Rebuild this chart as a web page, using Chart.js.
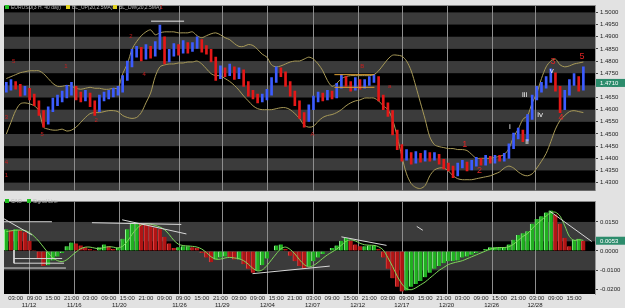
<!DOCTYPE html>
<html>
<head>
<meta charset="utf-8">
<script src="https://cdn.jsdelivr.net/npm/chart.js@4.4.1/dist/chart.umd.min.js"></script>
<style>
  html, body { margin: 0; padding: 0; background: #e2e2e2; }
  #wrap { position: relative; width: 625px; height: 308px; overflow: hidden; }
  #top { position: absolute; left: 0; top: 0; }
  #bot { position: absolute; left: 0; top: 196px; }
</style>
</head>
<body>
<div id="wrap">
  <canvas id="top" width="625" height="196" style="width:625px;height:196px"></canvas>
  <canvas id="bot" width="625" height="112" style="width:625px;height:112px"></canvas>
</div>
<script>
// ---- data (one value per 3h bar) ----
const closes = [1.4688,1.4708,1.4696,1.4668,1.4680,1.4656,1.4628,1.4588,1.4548,1.4600,
  1.4628,1.4640,1.4656,1.4668,1.4688,1.4656,1.4648,1.4660,1.4628,1.4600,
  1.4648,1.4656,1.4664,1.4672,1.4680,1.4728,1.4788,1.4828,1.4840,1.4816,
  1.4848,1.4828,1.4856,1.4888,1.4808,1.4828,1.4856,1.4840,1.4868,1.4848,
  1.4860,1.4880,1.4848,1.4840,1.4808,1.4736,1.4760,1.4748,1.4768,1.4736,
  1.4756,1.4708,1.4668,1.4656,1.4640,1.4648,1.4668,1.4720,1.4760,1.4748,
  1.4708,1.4668,1.4628,1.4576,1.4560,1.4608,1.4640,1.4656,1.4648,1.4664,
  1.4656,1.4696,1.4728,1.4708,1.4688,1.4716,1.4696,1.4708,1.4720,1.4728,
  1.4648,1.4616,1.4588,1.4508,1.4448,1.4400,1.4416,1.4388,1.4408,1.4396,
  1.4416,1.4400,1.4408,1.4388,1.4368,1.4360,1.4336,1.4368,1.4376,1.4360,
  1.4376,1.4388,1.4380,1.4396,1.4388,1.4400,1.4396,1.4408,1.4448,1.4488,
  1.4508,1.4480,1.4568,1.4648,1.4680,1.4696,1.4720,1.4744,1.4688,1.4608,
  1.4668,1.4708,1.4728,1.4688,1.4710];
const highs = [1.4712,1.4724,1.4716,1.4704,1.4696,1.4688,1.4664,1.4636,1.4596,1.4612,
  1.4648,1.4660,1.4676,1.4700,1.4712,1.4696,1.4672,1.4680,1.4668,1.4636,
  1.4660,1.4672,1.4680,1.4688,1.4696,1.4740,1.4800,1.4848,1.4860,1.4856,
  1.4868,1.4860,1.4880,1.4948,1.4900,1.4848,1.4872,1.4868,1.4884,1.4876,
  1.4876,1.4900,1.4888,1.4864,1.4848,1.4816,1.4780,1.4772,1.4788,1.4776,
  1.4772,1.4764,1.4716,1.4680,1.4664,1.4664,1.4684,1.4732,1.4776,1.4772,
  1.4756,1.4716,1.4676,1.4636,1.4588,1.4620,1.4656,1.4672,1.4668,1.4680,
  1.4676,1.4708,1.4744,1.4736,1.4716,1.4732,1.4724,1.4724,1.4736,1.4744,
  1.4736,1.4660,1.4628,1.4596,1.4516,1.4456,1.4436,1.4424,1.4428,1.4420,
  1.4432,1.4424,1.4424,1.4416,1.4396,1.4380,1.4368,1.4380,1.4392,1.4384,
  1.4392,1.4404,1.4400,1.4412,1.4408,1.4412,1.4412,1.4420,1.4460,1.4504,
  1.4524,1.4516,1.4580,1.4660,1.4696,1.4712,1.4736,1.4768,1.4752,1.4696,
  1.4680,1.4724,1.4748,1.4736,1.4776];
const lows = [1.4672,1.4680,1.4684,1.4656,1.4660,1.4640,1.4616,1.4576,1.4528,1.4540,
  1.4592,1.4616,1.4632,1.4648,1.4660,1.4640,1.4632,1.4636,1.4612,1.4576,
  1.4592,1.4636,1.4644,1.4652,1.4660,1.4672,1.4720,1.4776,1.4816,1.4800,
  1.4808,1.4812,1.4820,1.4848,1.4788,1.4796,1.4820,1.4824,1.4832,1.4832,
  1.4840,1.4852,1.4836,1.4828,1.4796,1.4720,1.4728,1.4736,1.4740,1.4724,
  1.4728,1.4696,1.4656,1.4644,1.4628,1.4632,1.4640,1.4660,1.4712,1.4736,
  1.4696,1.4656,1.4616,1.4564,1.4528,1.4552,1.4600,1.4632,1.4636,1.4640,
  1.4644,1.4648,1.4688,1.4696,1.4676,1.4680,1.4684,1.4688,1.4700,1.4712,
  1.4636,1.4600,1.4572,1.4496,1.4436,1.4388,1.4392,1.4376,1.4380,1.4384,
  1.4388,1.4388,1.4392,1.4376,1.4356,1.4348,1.4320,1.4328,1.4360,1.4348,
  1.4352,1.4368,1.4372,1.4372,1.4380,1.4380,1.4388,1.4388,1.4400,1.4440,
  1.4480,1.4468,1.4472,1.4560,1.4640,1.4672,1.4688,1.4712,1.4676,1.4588,
  1.4600,1.4660,1.4700,1.4676,1.4680];
const bbUp = [1.4728,1.4736,1.4744,1.4752,1.4756,1.4760,1.4760,1.4760,1.4748,1.4728,
  1.4708,1.4696,1.4696,1.4700,1.4696,1.4688,1.4684,1.4688,1.4692,1.4688,
  1.4688,1.4684,1.4684,1.4688,1.4688,1.4748,1.4788,1.4848,1.4880,1.4904,
  1.4920,1.4928,1.4908,1.4916,1.4920,1.4920,1.4920,1.4916,1.4916,1.4916,
  1.4920,1.4904,1.4896,1.4904,1.4912,1.4916,1.4908,1.4896,1.4888,1.4872,
  1.4860,1.4860,1.4868,1.4864,1.4848,1.4828,1.4816,1.4784,1.4776,1.4780,
  1.4788,1.4796,1.4800,1.4800,1.4808,1.4816,1.4808,1.4788,1.4760,1.4720,
  1.4696,1.4708,1.4728,1.4736,1.4740,1.4740,1.4740,1.4740,1.4740,1.4744,
  1.4760,1.4784,1.4808,1.4824,1.4824,1.4820,1.4800,1.4760,1.4696,1.4628,
  1.4560,1.4488,1.4456,1.4448,1.4444,1.4440,1.4440,1.4436,1.4436,1.4432,
  1.4416,1.4400,1.4400,1.4400,1.4400,1.4404,1.4408,1.4416,1.4440,1.4488,
  1.4520,1.4560,1.4576,1.4628,1.4668,1.4728,1.4776,1.4800,1.4808,1.4784,
  1.4776,1.4780,1.4788,1.4792,1.4796];
const bbDw = [1.4500,1.4548,1.4596,1.4624,1.4628,1.4624,1.4616,1.4596,1.4528,1.4520,
  1.4516,1.4516,1.4520,1.4512,1.4516,1.4528,1.4548,1.4568,1.4584,1.4588,
  1.4588,1.4592,1.4596,1.4596,1.4592,1.4576,1.4568,1.4564,1.4568,1.4588,
  1.4628,1.4668,1.4736,1.4776,1.4784,1.4788,1.4788,1.4792,1.4792,1.4796,
  1.4796,1.4800,1.4788,1.4768,1.4748,1.4740,1.4740,1.4728,1.4716,1.4700,
  1.4680,1.4656,1.4636,1.4616,1.4604,1.4600,1.4600,1.4600,1.4604,1.4608,
  1.4608,1.4600,1.4584,1.4564,1.4536,1.4528,1.4532,1.4552,1.4568,1.4576,
  1.4580,1.4588,1.4600,1.4616,1.4628,1.4636,1.4640,1.4648,1.4648,1.4648,
  1.4636,1.4616,1.4600,1.4560,1.4488,1.4408,1.4336,1.4296,1.4280,1.4276,
  1.4288,1.4328,1.4352,1.4360,1.4360,1.4348,1.4328,1.4316,1.4312,1.4312,
  1.4312,1.4316,1.4320,1.4324,1.4328,1.4336,1.4344,1.4360,1.4368,1.4360,
  1.4344,1.4332,1.4328,1.4336,1.4360,1.4388,1.4420,1.4468,1.4520,1.4556,
  1.4576,1.4592,1.4596,1.4592,1.4588];
const cao = [0.0112,0.0107,0.0112,0.0107,0.0097,0.0053,0.0005,-0.0039,-0.0078,-0.0073,
  -0.0049,-0.0029,-0.0010,0.0024,0.0044,0.0039,0.0029,0.0019,0.0010,0.0005,
  0.0019,0.0034,0.0024,0.0010,0.0015,0.0063,0.0112,0.0146,0.0146,0.0141,
  0.0136,0.0131,0.0121,0.0112,0.0073,0.0039,0.0015,0.0019,0.0024,0.0024,
  0.0019,0.0015,-0.0010,-0.0034,-0.0058,-0.0044,-0.0034,-0.0029,-0.0034,-0.0044,
  -0.0044,-0.0068,-0.0092,-0.0112,-0.0102,-0.0073,-0.0039,0.0000,0.0029,0.0034,
  0.0010,-0.0024,-0.0053,-0.0078,-0.0092,-0.0078,-0.0053,-0.0034,-0.0015,0.0000,
  0.0015,0.0029,0.0053,0.0068,0.0053,0.0034,0.0024,0.0024,0.0029,0.0029,
  0.0010,-0.0034,-0.0092,-0.0141,-0.0184,-0.0209,-0.0204,-0.0184,-0.0170,-0.0155,
  -0.0136,-0.0112,-0.0092,-0.0078,-0.0063,-0.0053,-0.0053,-0.0049,-0.0034,-0.0029,
  -0.0019,-0.0010,0.0000,0.0010,0.0019,0.0019,0.0019,0.0019,0.0034,0.0058,
  0.0083,0.0092,0.0102,0.0141,0.0165,0.0180,0.0199,0.0209,0.0189,0.0141,
  0.0068,0.0024,0.0058,0.0063,0.0053];
const signal = [0.0100,0.0104,0.0107,0.0108,0.0106,0.0095,0.0075,0.0050,0.0020,-0.0010,
  -0.0035,-0.0050,-0.0055,-0.0045,-0.0025,-0.0005,0.0012,0.0020,0.0020,0.0015,
  0.0012,0.0018,0.0022,0.0020,0.0016,0.0025,0.0050,0.0085,0.0115,0.0135,
  0.0140,0.0138,0.0132,0.0124,0.0110,0.0085,0.0055,0.0035,0.0028,0.0026,
  0.0024,0.0020,0.0010,-0.0008,-0.0030,-0.0042,-0.0042,-0.0036,-0.0033,-0.0036,
  -0.0040,-0.0050,-0.0068,-0.0090,-0.0103,-0.0098,-0.0075,-0.0045,-0.0015,0.0012,
  0.0020,0.0008,-0.0015,-0.0045,-0.0070,-0.0082,-0.0075,-0.0058,-0.0038,-0.0020,
  -0.0005,0.0010,0.0030,0.0050,0.0058,0.0052,0.0040,0.0032,0.0030,0.0029,
  0.0022,0.0005,-0.0035,-0.0080,-0.0130,-0.0170,-0.0195,-0.0200,-0.0190,-0.0175,
  -0.0160,-0.0140,-0.0120,-0.0100,-0.0085,-0.0070,-0.0062,-0.0056,-0.0050,-0.0040,
  -0.0030,-0.0020,-0.0010,0.0000,0.0010,0.0015,0.0018,0.0018,0.0022,0.0035,
  0.0055,0.0075,0.0090,0.0115,0.0140,0.0160,0.0180,0.0198,0.0200,0.0180,
  0.0130,0.0075,0.0055,0.0058,0.0055];

// tick labels, by bar slot on the time axis
const timeSlots = [2,6,10,14,18,22,26,30,34,38,42,46,50,54,58,62,66,70,74,78,82,86,90,94,98,102,106,110,114,118,122];
const timeTexts = ['03:00','09:00','15:00','21:00','03:00','09:00','15:00','21:00','09:00','09:00','15:00',
  '21:00','03:00','09:00','15:00','21:00','03:00','09:00','15:00','21:00','03:00','09:00',
  '15:00','21:00','03:00','09:00','15:00','21:00','03:00','09:00','15:00'];
const dateSlots = [4.9,14.6,24.3,37.2,46.4,56.1,65.8,75.5,85.0,94.6,104.3,113.6];
const dateTexts = ['11/12','11/16','11/20','11/26','11/29','12/04','12/07','12/12','12/17','12/20','12/26','12/28'];
const priceTicks = [1.5000,1.4950,1.4900,1.4850,1.4800,1.4750,1.4700,1.4650,1.4600,1.4550,1.4500,1.4450,1.4400,1.4350,1.4300];
const caoTicks = [0.0150,0.0000,-0.0100,-0.0200];
const priceBands = [[1.4950,1.5000],[1.4850,1.4900],[1.4750,1.4800],[1.4650,1.4700],[1.4550,1.4600],[1.4450,1.4500],[1.4350,1.4400],[1.4250,1.4300]];
const caoBands = [[0.0050,0.0150],[-0.0100,0.0000]];

// drawn trend lines [slot1, value1, slot2, value2]
const topLines = [[31.1,1.4964,38.2,1.4964]];
const rangeLines = [[70.5,1.4744,79.1,1.4744],[70.5,1.4692,79.1,1.4692]];
const caoLines = [[-0.5,0.0166,5.5,0.0083],[-0.5,0.0151,9.8,0.0151],[18.4,0.0146,37.6,0.0137],[24.9,0.0161,38.7,0.0088],
  [1.65,-0.0039,12,-0.0039],[1.65,-0.0063,12.4,-0.0063],[1.65,0.0005,1.65,-0.0063],[-0.5,-0.0088,12.8,-0.0088],
  [52.9,-0.0117,69.5,-0.0078],[72,0.0073,81.7,0.0029],[88.2,0.0127,89.5,0.0107],[116.8,0.0205,125.8,0.0049]];

// wave counts [text, slot, price]
const smallRed = [['5',1.6,1.4800],['1',12.8,1.4780],['2',26.8,1.4900],['4',29.6,1.4744],['3',0,1.4568],
  ['5',7.7,1.4500],['2',19.3,1.4556],['4',0,1.4384],['1',0,1.4328],['1',33.3,1.5020],['B',76.5,1.4780],['A',65.8,1.4500],['a',82.4,1.4696]];
const bigRed = [['1',98.5,1.4456],['2',101.7,1.4348],['3',117.5,1.4796],['4',119.2,1.4568],['5',123.7,1.4820]];
const whiteWaves = [['i',108.2,1.4528],['ii',111.9,1.4468],['iii',111.4,1.4660],['iv',114.7,1.4580],['v',117.2,1.4760]];

const FONT = 'Liberation Sans';
const SLOTS = 127;
const pts = arr => arr.map((v, i) => ({x: i, y: v}));
const segs = (list, color, width) => list.map(s => ({
  type: 'line', data: [{x: s[0], y: s[1]}, {x: s[2], y: s[3]}],
  borderColor: color, borderWidth: width, pointRadius: 0, order: -1
}));

function panelBg(bands) {
  return {
    id: 'panelBg',
    beforeDraw(chart) {
      const {ctx, chartArea: a, scales: {x, y}} = chart;
      ctx.save();
      ctx.fillStyle = '#000';
      ctx.fillRect(a.left, a.top, a.width, a.height);
      ctx.fillStyle = '#3b3b3b';
      bands.forEach(([lo, hi]) => {
        const t = Math.max(y.getPixelForValue(hi), a.top);
        const b = Math.min(y.getPixelForValue(lo), a.bottom);
        if (b > t) ctx.fillRect(a.left, t, a.width, b - t);
      });
      ctx.strokeStyle = '#8e8e8e';
      ctx.lineWidth = 1;
      dateSlots.forEach(v => {
        const px = Math.round(x.getPixelForValue(v)) + 0.5;
        ctx.beginPath(); ctx.moveTo(px, a.top); ctx.lineTo(px, a.bottom); ctx.stroke();
      });
      ctx.restore();
    }
  };
}

function legend(items) {
  return (ctx, y) => {
    ctx.font = '5px ' + FONT;
    ctx.textBaseline = 'middle';
    items.forEach(([x, color, text]) => {
      ctx.fillStyle = color; ctx.fillRect(x, y - 2, 4, 4);
      ctx.fillStyle = '#b8b8b8'; ctx.fillText(text, x + 6, y + 0.5);
    });
  };
}

function lastValueBox(chart, value, text) {
  const {ctx, chartArea: a, scales: {y}} = chart;
  const py = y.getPixelForValue(value);
  ctx.save();
  ctx.fillStyle = '#2c8c6c';
  ctx.fillRect(a.right + 1, py - 4, 30, 8);
  ctx.fillStyle = '#fff';
  ctx.font = '6px ' + FONT;
  ctx.textBaseline = 'middle';
  ctx.fillText(text, a.right + 5, py + 0.5);
  ctx.restore();
}

const topOverlay = {
  id: 'topOverlay',
  afterDraw(chart) {
    const {ctx, scales: {x, y}} = chart;
    ctx.save();
    legend([[5, '#22c022', 'EURUSD(3 H. 40 day)'], [66, '#e0d020', 'BL_UP(20,2.5MA)'], [113, '#e0d020', 'BL_DW(20,2.5MA)']])(ctx, 7);
    ctx.textAlign = 'center';
    ctx.textBaseline = 'middle';
    const put = (list, font, color) => {
      ctx.font = font; ctx.fillStyle = color;
      list.forEach(([t, i, p]) => ctx.fillText(t, x.getPixelForValue(i), y.getPixelForValue(p)));
    };
    put(smallRed, '6px ' + FONT, '#c81e1e');
    put(bigRed, '9px ' + FONT, '#e02424');
    put(whiteWaves, '8px ' + FONT, '#f0f0f0');
    ctx.restore();
    lastValueBox(chart, closes[closes.length - 1], closes[closes.length - 1].toFixed(4));
  }
};

const botOverlay = {
  id: 'botOverlay',
  afterDraw(chart) {
    const {ctx} = chart;
    ctx.save();
    legend([[5, '#22c022', 'CAO'], [27, '#22c022', 'Signal Line']])(ctx, 5);
    ctx.restore();
    lastValueBox(chart, cao[cao.length - 1], cao[cao.length - 1].toFixed(4));
  }
};

const rightAxis = (min, max, ticks) => ({
  position: 'right', min, max,
  afterBuildTicks: s => { s.ticks = ticks.map(v => ({value: v})); },
  afterFit: s => { s.width = 30; },
  ticks: { font: {family: FONT, size: 6}, color: '#222', padding: 2, callback: v => v.toFixed(4) },
  grid: { drawOnChartArea: false, tickLength: 3, color: '#444' },
  border: { color: '#999' }
});

new Chart(document.getElementById('top'), {
  type: 'bar',
  data: {
    datasets: [
      ...segs(topLines, '#e8e8e8', 1),
      ...segs(rangeLines, '#e0a030', 1),
      {
        type: 'bar', label: 'EURUSD',
        data: highs.map((h, i) => ({x: i, y: [lows[i], h]})),
        backgroundColor: closes.map((c, i) => (i === 0 || c >= closes[i - 1]) ? '#3c5cff' : '#e41818'),
        barThickness: 2, grouped: false, order: 0
      },
      { type: 'line', label: 'BL_UP(20,2.5MA)', data: pts(bbUp), borderColor: '#a89a58', borderWidth: 1, pointRadius: 0, tension: 0.3, order: 1 },
      { type: 'line', label: 'BL_DW(20,2.5MA)', data: pts(bbDw), borderColor: '#a89a58', borderWidth: 1, pointRadius: 0, tension: 0.3, order: 1 }
    ]
  },
  options: {
    responsive: false, animation: false,
    layout: { padding: {left: 4, top: 4, right: 0, bottom: 1} },
    plugins: { legend: {display: false}, tooltip: {enabled: false} },
    scales: {
      x: { type: 'linear', min: -0.5, max: SLOTS - 0.5, offset: false, display: false },
      y: rightAxis(1.4268, 1.5028, priceTicks)
    }
  },
  plugins: [panelBg(priceBands), topOverlay]
});

const timeAt = new Map(timeSlots.map((s, k) => [s, timeTexts[k]]));
const dateAt = new Map(dateSlots.map((s, k) => [s, dateTexts[k]]));
const tickSlots = [...timeSlots, ...dateSlots].sort((a, b) => a - b);

new Chart(document.getElementById('bot'), {
  type: 'bar',
  data: {
    datasets: [
      ...segs(caoLines, '#d8d8d8', 1),
      { type: 'line', label: 'Signal Line', data: pts(signal), borderColor: '#7ed85a', borderWidth: 1, pointRadius: 0, tension: 0.3, order: 0 },
      {
        type: 'bar', label: 'CAO', data: pts(cao),
        backgroundColor: cao.map((v, i) => (i === 0 || v >= cao[i - 1]) ? '#20b020' : '#b01414'),
        borderColor: cao.map((v, i) => (i === 0 || v >= cao[i - 1]) ? '#96f496' : '#e04848'),
        borderWidth: {left: 1, right: 0, top: 0, bottom: 0}, borderSkipped: false,
        barThickness: 4, grouped: false, order: 1
      }
    ]
  },
  options: {
    responsive: false, animation: false,
    layout: { padding: {left: 4, top: 1, right: 0, bottom: 0} },
    plugins: { legend: {display: false}, tooltip: {enabled: false} },
    scales: {
      x: {
        type: 'linear', min: -0.5, max: SLOTS - 0.5, offset: false,
        afterBuildTicks: s => { s.ticks = tickSlots.map(v => ({value: v})); },
        afterFit: s => { s.height = 14; },
        ticks: { autoSkip: false, maxRotation: 0, padding: 1, color: '#222',
          font: {family: FONT, size: 6, lineHeight: 1.15},
          callback: v => [timeAt.get(v) || '', dateAt.get(v) || ''] },
        grid: { drawOnChartArea: false, drawTicks: false },
        border: { display: false }
      },
      y: rightAxis(-0.0222, 0.0255, caoTicks)
    }
  },
  plugins: [panelBg(caoBands), botOverlay]
});
</script>
</body>
</html>
